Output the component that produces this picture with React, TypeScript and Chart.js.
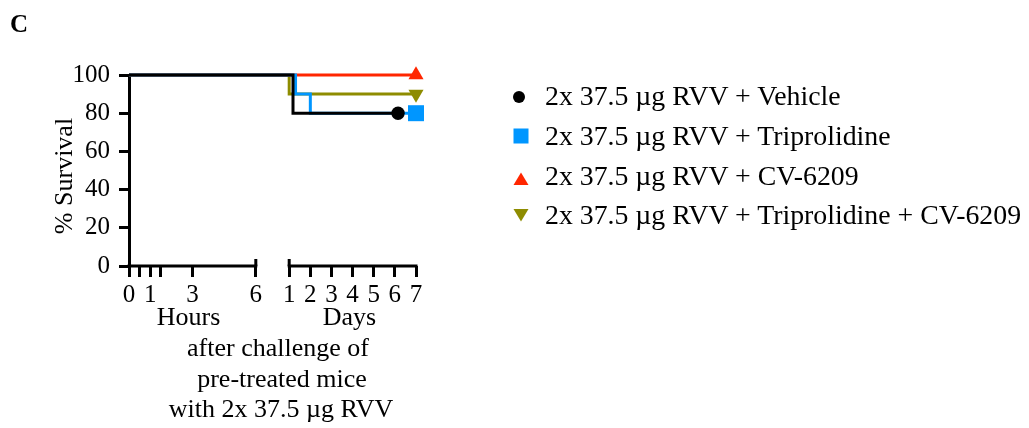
import React, { useEffect, useRef } from 'react';
import { Chart, registerables } from 'chart.js';

Chart.register(...registerables);

// ---------- data ----------
const SERIES_LABELS = [
  '2x 37.5 µg RVV + Vehicle',
  '2x 37.5 µg RVV + Triprolidine',
  '2x 37.5 µg RVV + CV-6209',
  '2x 37.5 µg RVV + Triprolidine + CV-6209',
];
const SERIES_COLORS = ['#000000', '#0096ff', '#ff2600', '#8e8c00'];

// every curve starts at hour 0 with 100 % survival
const START_HOUR = 0;
const START_SURVIVAL = 100;
// event / end times in days after challenge and % survival after each
const vehicleDays = [1.18, 6.15];
const vehicleSurvival = [80, 80];
const triprolidineDays = [1.3, 2, 7];
const triprolidineSurvival = [90, 80, 80];
const cv6209Days = [7];
const cv6209Survival = [100];
const comboDays = [1, 7];
const comboSurvival = [90, 90];

const HOUR_TICKS = [0, 0.5, 1, 1.5, 3, 6];
const HOUR_TICK_LABELS = ['0', '', '1', '', '3', '6'];
const DAY_TICKS = [1, 2, 3, 4, 5, 6, 7];
const DAY_TICK_LABELS = ['1', '2', '3', '4', '5', '6', '7'];
const Y_TICKS = [0, 20, 40, 60, 80, 100];

// ---------- axis mapping (broken axis: hours segment, gap, days segment) ----------
const DAY_AXIS_START = 7.58; // axis position of day 1
const hourPos = (h: number) => h;
const dayPos = (d: number) => DAY_AXIS_START + (d - 1);

const SERIES_DAYS = [vehicleDays, triprolidineDays, cv6209Days, comboDays];
const SERIES_SURVIVAL = [vehicleSurvival, triprolidineSurvival, cv6209Survival, comboSurvival];

const POINT_STYLES = ['circle', 'rect', 'triangle', 'triangle'];
const POINT_RADII = [6.7, 11.3, 8.7, 8.7];
const POINT_ROTATIONS = [0, 0, 0, 180];

const FONT = "'Liberation Serif', 'Times New Roman', serif";
const W = 1029;
const H = 428;
const AREA = { left: 129, right: 416, top: 75, bottom: 266 };

const brokenAxis = {
  id: 'brokenAxis',
  afterDraw(chart: any) {
    const { ctx } = chart;
    const xs = chart.scales.x;
    const y = chart.chartArea.bottom;
    ctx.save();
    ctx.strokeStyle = '#000';
    ctx.lineWidth = 3;
    ctx.lineCap = 'butt';
    const segs = [
      [xs.getPixelForValue(hourPos(HOUR_TICKS[0])) - 1.5, xs.getPixelForValue(hourPos(HOUR_TICKS[HOUR_TICKS.length - 1])) + 1.5],
      [xs.getPixelForValue(dayPos(DAY_TICKS[0])) - 1.5, xs.getPixelForValue(dayPos(DAY_TICKS[DAY_TICKS.length - 1])) + 1.5],
    ];
    segs.forEach(([a, b]) => {
      ctx.beginPath();
      ctx.moveTo(a, y);
      ctx.lineTo(b, y);
      ctx.stroke();
    });
    // break caps
    [xs.getPixelForValue(hourPos(HOUR_TICKS[HOUR_TICKS.length - 1])), xs.getPixelForValue(dayPos(DAY_TICKS[0]))].forEach((px: number) => {
      ctx.beginPath();
      ctx.moveTo(px, y - 7);
      ctx.lineTo(px, y);
      ctx.stroke();
    });
    ctx.restore();
  },
};

function Marker({ i, cx, cy }: { i: number; cx: number; cy: number }) {
  const c = SERIES_COLORS[i];
  const s = 18;
  let shape: any;
  if (i === 0) shape = <circle cx={9} cy={9} r={6} fill={c} />;
  else if (i === 1) shape = <rect x={1.5} y={1.5} width={15} height={15} fill={c} />;
  else if (i === 2) shape = <polygon points="1.5,15 16.5,15 9,2.5" fill={c} />;
  else shape = <polygon points="1.5,3 16.5,3 9,15.5" fill={c} />;
  return (
    <svg width={s} height={s} style={{ position: 'absolute', left: cx - 9, top: cy - 9 }}>
      {shape}
    </svg>
  );
}

export default function App() {
  const canvasRef = useRef<HTMLCanvasElement | null>(null);

  useEffect(() => {
    const canvas = canvasRef.current;
    if (!canvas) return;
    const tickPositions = [...HOUR_TICKS.map(hourPos), ...DAY_TICKS.map(dayPos)];
    const tickLabels = [...HOUR_TICK_LABELS, ...DAY_TICK_LABELS];

    const datasets = SERIES_LABELS.map((label, i) => ({
      label,
      data: [
        { x: hourPos(START_HOUR), y: START_SURVIVAL },
        ...SERIES_DAYS[i].map((d, k) => ({ x: dayPos(d), y: SERIES_SURVIVAL[i][k] })),
      ],
      borderColor: SERIES_COLORS[i],
      backgroundColor: SERIES_COLORS[i],
      borderWidth: 3,
      stepped: true as const,
      fill: false,
      clip: false as any,
      pointStyle: POINT_STYLES[i] as any,
      pointRotation: POINT_ROTATIONS[i],
      pointBorderWidth: 0,
      pointRadius: (ctx: any) => (ctx.dataIndex === ctx.dataset.data.length - 1 ? POINT_RADII[i] : 0),
      pointHoverRadius: 0,
    }));

    const chart = new Chart(canvas, {
      type: 'line',
      data: { datasets },
      plugins: [brokenAxis],
      options: {
        animation: false,
        responsive: false,
        devicePixelRatio: 1,
        events: [],
        layout: { padding: { left: 0, top: AREA.top, right: W - AREA.right, bottom: 0 } },
        plugins: { legend: { display: false }, tooltip: { enabled: false } },
        scales: {
          x: {
            type: 'linear',
            min: 0,
            max: dayPos(DAY_TICKS[DAY_TICKS.length - 1]),
            afterFit: (s: any) => {
              s.height = H - AREA.bottom;
            },
            afterBuildTicks: (s: any) => {
              s.ticks = tickPositions.map((v) => ({ value: v }));
            },
            border: { display: false },
            grid: { drawOnChartArea: false, drawTicks: true, tickLength: 11, lineWidth: 3, color: '#000' },
            ticks: {
              autoSkip: false,
              maxRotation: 0,
              padding: 3,
              color: '#000',
              font: { family: FONT, size: 25 },
              callback: (_v: any, idx: number) => tickLabels[idx],
            },
          },
          y: {
            min: 0,
            max: 100,
            afterFit: (s: any) => {
              s.width = AREA.left;
            },
            afterBuildTicks: (s: any) => {
              s.ticks = Y_TICKS.map((v) => ({ value: v }));
            },
            border: { display: true, width: 3, color: '#000' },
            grid: { drawOnChartArea: false, drawTicks: true, tickLength: 10, lineWidth: 3, color: '#000' },
            ticks: {
              padding: 9,
              color: '#000',
              font: { family: FONT, size: 25 },
              callback: (v: any) => String(v),
            },
          },
        },
      },
    });
    return () => chart.destroy();
  }, []);

  const txt = (text: string, cx: number, top: number, size: number, extra: any = {}) => (
    <div
      style={{
        position: 'absolute',
        left: cx - 200,
        width: 400,
        top,
        textAlign: 'center',
        fontFamily: FONT,
        fontSize: size,
        lineHeight: `${size}px`,
        whiteSpace: 'nowrap',
        color: '#000',
        ...extra,
      }}
    >
      {text}
    </div>
  );

  const LEGEND_FONT = 27.8;
  const legendBaselines = [105.5, 145, 185, 224.5];
  const markerCenters = [
    [518.5, 96.5],
    [520.5, 135.5],
    [520.5, 179],
    [520.5, 215],
  ];

  return (
    <div style={{ position: 'absolute', left: 0, top: 0, width: W, height: H, background: '#fff', overflow: 'hidden' }}>
      <canvas ref={canvasRef} width={W} height={H} style={{ position: 'absolute', left: 0, top: 0 }} />
      <div style={{ position: 'absolute', left: 10, top: 11, fontFamily: FONT, fontWeight: 'bold', fontSize: 25, lineHeight: '25px' }}>C</div>
      <div
        style={{
          position: 'absolute',
          left: 64 - 100,
          top: 175.5 - 13,
          width: 200,
          height: 26,
          textAlign: 'center',
          fontFamily: FONT,
          fontSize: 26,
          lineHeight: '26px',
          whiteSpace: 'nowrap',
          transform: 'rotate(-90deg)',
        }}
      >
        % Survival
      </div>
      {txt('Hours', 188.5, 326 - 21.8, 26)}
      {txt('Days', 349.5, 326 - 21.8, 26)}
      {txt('after challenge of', 278, 357 - 21.8, 26)}
      {txt('pre-treated mice', 282, 388 - 21.8, 26)}
      {txt('with 2x 37.5 µg RVV', 281, 418 - 21.8, 26)}
      {SERIES_LABELS.map((l, i) => (
        <React.Fragment key={l}>
          <Marker i={i} cx={markerCenters[i][0]} cy={markerCenters[i][1]} />
          <div
            style={{
              position: 'absolute',
              left: 545,
              top: legendBaselines[i] - 0.8375 * LEGEND_FONT,
              fontFamily: FONT,
              fontSize: LEGEND_FONT,
              lineHeight: `${LEGEND_FONT}px`,
              whiteSpace: 'nowrap',
            }}
          >
            {l}
          </div>
        </React.Fragment>
      ))}
    </div>
  );
}
